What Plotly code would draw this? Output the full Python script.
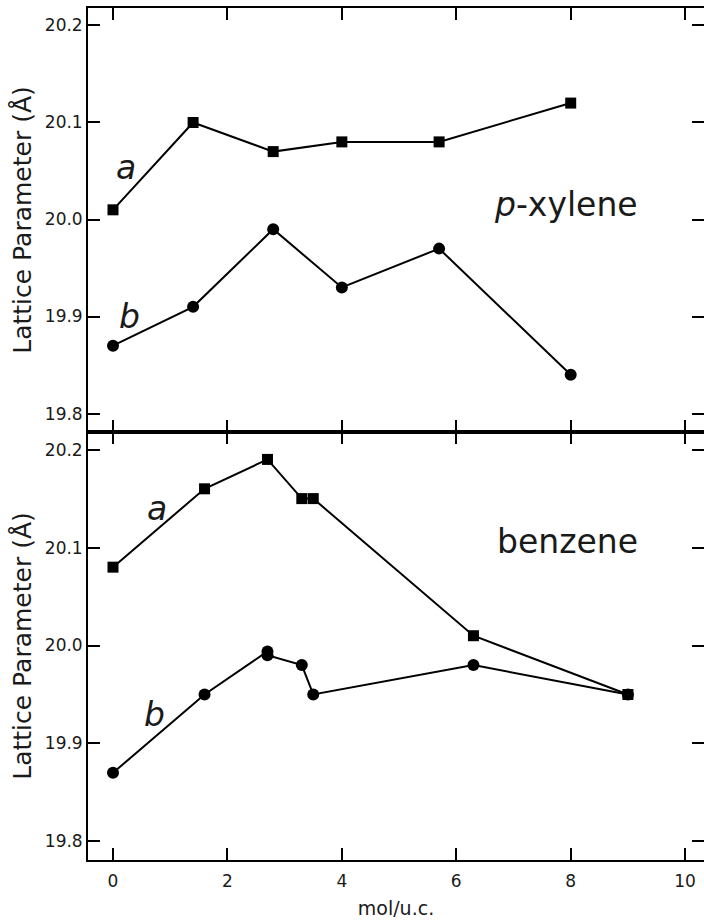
import plotly.graph_objects as go

# p-xylene panel (top)
px_x = [0, 1.4, 2.8, 4.0, 5.7, 8.0]
px_a = [20.01, 20.10, 20.07, 20.08, 20.08, 20.12]
px_b = [19.87, 19.91, 19.99, 19.93, 19.97, 19.84]

# benzene panel (bottom)
bz_xa = [0, 1.6, 2.7, 3.3, 3.5, 6.3, 9.0]
bz_a = [20.08, 20.16, 20.19, 20.15, 20.15, 20.01, 19.95]
bz_xb = [0, 1.6, 2.7, 2.7, 3.3, 3.5, 6.3, 9.0]
bz_b = [19.87, 19.95, 19.994, 19.99, 19.98, 19.95, 19.98, 19.95]

x_ticks = [0, 2, 4, 6, 8, 10]
y_ticks = [19.8, 19.9, 20.0, 20.1, 20.2]
y_ticktext = ["19.8", "19.9", "20.0", "20.1", "20.2"]

FONT = "DejaVu Sans"
INK = "#1a1a1a"
XR = [-0.437, 10.33]
YR = [19.781, 20.218]

fig = go.Figure()
line = dict(color="black", width=2)
sq = dict(symbol="square", size=11, color="black")
ci = dict(symbol="circle", size=12, color="black")

fig.add_trace(go.Scatter(x=px_x, y=px_a, mode="lines+markers", line=line, marker=sq,
                         xaxis="x2", yaxis="y2", showlegend=False))
fig.add_trace(go.Scatter(x=px_x, y=px_b, mode="lines+markers", line=line, marker=ci,
                         xaxis="x2", yaxis="y2", showlegend=False))
fig.add_trace(go.Scatter(x=bz_xa, y=bz_a, mode="lines+markers", line=line, marker=sq,
                         xaxis="x", yaxis="y", showlegend=False))
fig.add_trace(go.Scatter(x=bz_xb, y=bz_b, mode="lines+markers", line=line, marker=ci,
                         xaxis="x", yaxis="y", showlegend=False))
# transparent carriers so the right-hand tick axes are drawn
fig.add_trace(go.Scatter(x=px_x, y=px_a, mode="lines", opacity=0, hoverinfo="skip",
                         xaxis="x2", yaxis="y4", showlegend=False))
fig.add_trace(go.Scatter(x=bz_xa, y=bz_a, mode="lines", opacity=0, hoverinfo="skip",
                         xaxis="x", yaxis="y3", showlegend=False))

split = 428 / 852

common_x = dict(range=XR, tickvals=x_ticks, ticks="inside", ticklen=12, tickwidth=1.5,
                tickcolor="black", showline=True, linecolor="black", linewidth=1.5,
                mirror="ticks", showgrid=False, zeroline=False,
                tickfont=dict(family=FONT, size=17, color=INK))
common_y = dict(range=YR, tickvals=y_ticks, ticktext=y_ticktext, ticks="inside",
                ticklen=12, tickwidth=1.5, tickcolor="black", showline=True,
                linecolor="black", linewidth=1.8, showgrid=False, zeroline=False,
                tickfont=dict(family=FONT, size=17, color=INK),
                title=dict(text="Lattice Parameter (Å)", font=dict(family=FONT, size=25, color=INK),
                           standoff=6))
right_y = dict(range=YR, tickvals=y_ticks, ticks="inside", ticklen=12, tickwidth=1.5,
               tickcolor="black", showline=False, showgrid=False, zeroline=False,
               showticklabels=False, side="right")

fig.update_layout(
    width=704, height=923,
    margin=dict(l=88, r=0, t=8, b=63),
    paper_bgcolor="white", plot_bgcolor="white",
    xaxis=dict(common_x, domain=[0, 1], anchor="y", ticklabelstandoff=5,
               title=dict(text="mol/u.c.", font=dict(family=FONT, size=19, color=INK), standoff=12)),
    xaxis2=dict(common_x, domain=[0, 1], anchor="y2", showticklabels=False),
    yaxis=dict(common_y, domain=[0, split], anchor="x"),
    yaxis2=dict(common_y, domain=[split, 1], anchor="x2"),
    yaxis3=dict(right_y, overlaying="y", anchor="x"),
    yaxis4=dict(right_y, overlaying="y2", anchor="x2"),
)

ann_font = dict(family=FONT, size=33, color=INK)
fig.add_annotation(x=0.23, y=20.054, xref="x2", yref="y2", text="<i>a</i>", showarrow=False, font=ann_font)
fig.add_annotation(x=0.29, y=19.90, xref="x2", yref="y2", text="<i>b</i>", showarrow=False, font=ann_font)
fig.add_annotation(x=7.92, y=20.015, xref="x2", yref="y2", text="<i>p</i>-xylene", showarrow=False, font=ann_font)
fig.add_annotation(x=0.77, y=20.14, xref="x", yref="y", text="<i>a</i>", showarrow=False, font=ann_font)
fig.add_annotation(x=0.73, y=19.93, xref="x", yref="y", text="<i>b</i>", showarrow=False, font=ann_font)
fig.add_annotation(x=7.95, y=20.106, xref="x", yref="y", text="benzene", showarrow=False, font=ann_font)

fig.write_html("out.html", config={"displayModeBar": False},
               post_script="document.body.style.margin='0';document.body.style.overflow='hidden';")
